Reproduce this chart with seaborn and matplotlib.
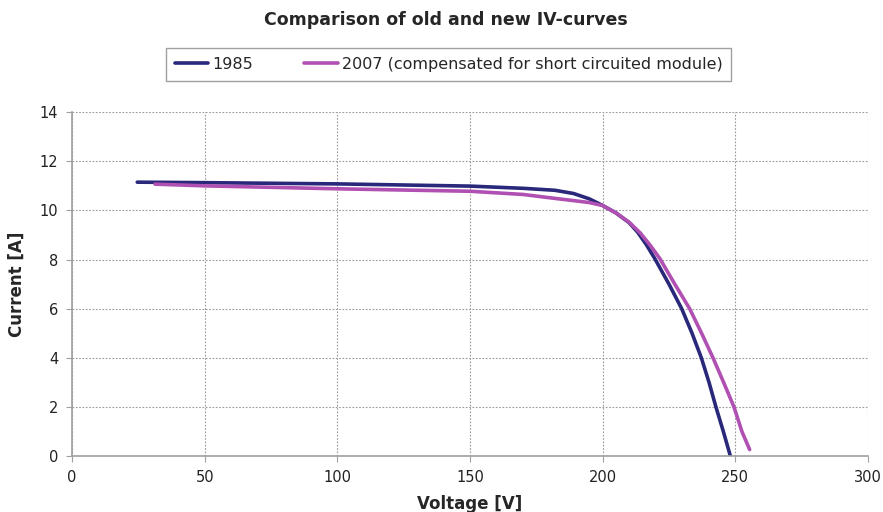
import matplotlib
matplotlib.use("Agg")
import matplotlib.pyplot as plt
from matplotlib.lines import Line2D
import seaborn as sns
import pandas as pd

v_1985 = [24.6, 50, 100, 150, 170, 182, 189, 195, 200, 205, 210, 213.3, 216.5, 219.6, 225.0, 229.8, 233.7, 237.2, 240.1, 242.7, 245.5, 248.1]
i_1985 = [11.15, 11.13, 11.08, 10.99, 10.9, 10.82, 10.69, 10.47, 10.2, 9.9, 9.5, 9.1, 8.6, 8.05, 7.0, 6.0, 5.0, 4.0, 3.0, 2.0, 1.0, 0.02]

v_2007 = [31.3, 50, 100, 150, 170, 182, 189, 195, 200, 205, 210, 214.2, 217.8, 221.5, 227.2, 232.8, 237.3, 241.6, 245.6, 249.5, 252.5, 255.4]
i_2007 = [11.07, 11.0, 10.88, 10.78, 10.65, 10.49, 10.4, 10.32, 10.2, 9.9, 9.52, 9.08, 8.6, 8.05, 7.0, 6.0, 5.0, 4.0, 3.0, 2.0, 1.0, 0.27]

labels = ["1985", "2007 (compensated for short circuited module)"]
colors = ["#29287a", "#b050b2"]

df = pd.concat([
    pd.DataFrame({"Voltage": v_1985, "Current": i_1985, "Series": labels[0]}),
    pd.DataFrame({"Voltage": v_2007, "Current": i_2007, "Series": labels[1]}),
])

sns.set_style("white")
plt.rcParams['font.family'] = ['DejaVu Sans']

fig = plt.figure(figsize=(8.83, 5.12), dpi=100)
ax = fig.add_axes([0.0815, 0.109, 0.9015, 0.672])

sns.lineplot(data=df, x="Voltage", y="Current", hue="Series", palette=colors,
             sort=False, estimator=None, linewidth=2.6, ax=ax, legend=False)
for ln in ax.lines:
    ln.set_solid_capstyle("round")
    ln.set_solid_joinstyle("round")

ax.set_xlim(0, 300)
ax.set_ylim(0, 14)
ax.set_xticks(range(0, 301, 50))
ax.set_yticks(range(0, 15, 2))
ax.grid(True, linestyle=(0, (1.5, 1.5)), color="#999999", linewidth=0.8)
for s in ["top", "right"]:
    ax.spines[s].set_visible(False)
for s in ["left", "bottom"]:
    ax.spines[s].set_color("#a0a0a0")
    ax.spines[s].set_linewidth(1.2)
ax.tick_params(axis="both", direction="out", length=4, color="#a0a0a0",
               labelsize=10.5, labelcolor="#222222", pad=6)
ax.tick_params(axis="both", which="both", left=True, bottom=True)
ax.set_xlabel("Voltage [V]", fontsize=12, fontweight="bold", labelpad=7)
ax.set_ylabel("Current [A]", fontsize=12, fontweight="bold", labelpad=10)

fig.suptitle("Comparison of old and new IV-curves", x=0.505, y=0.978,
             fontsize=12.5, fontweight="bold")

handles = [Line2D([], [], color=c, linewidth=2.6) for c in colors]
leg = fig.legend(handles, labels, loc="center", bbox_to_anchor=(0.508, 0.874),
                 ncol=2, fontsize=11.5, frameon=True, fancybox=False,
                 edgecolor="#888888", handlelength=2.1, handletextpad=0.25,
                 columnspacing=3.2, borderpad=0.55)
leg.get_frame().set_linewidth(1.0)

fig.savefig("out.png", dpi=100)
